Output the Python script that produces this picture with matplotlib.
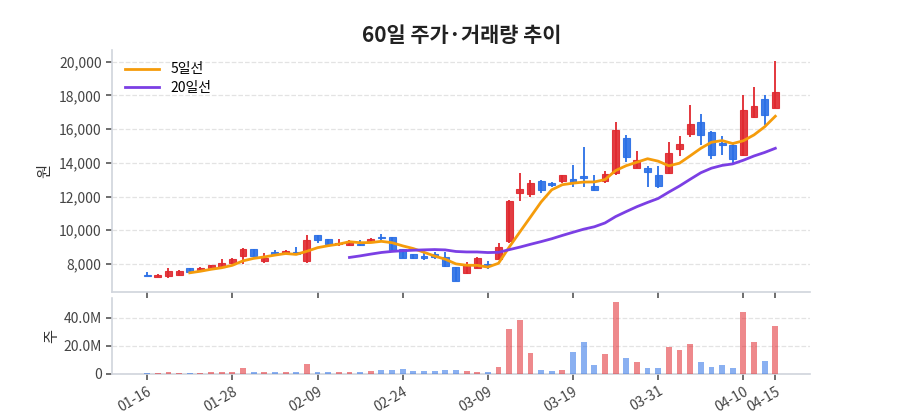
import matplotlib
matplotlib.use('Agg')
import matplotlib.pyplot as plt
import numpy as np
import pandas as pd
from matplotlib.ticker import FuncFormatter

plt.rcParams['font.family'] = ['Noto Sans CJK KR', 'DejaVu Sans']

dates = ['01-16', '01-19', '01-20', '01-21', '01-22', '01-23', '01-26', '01-27', '01-28',
         '01-29', '01-30', '02-02', '02-03', '02-04', '02-05', '02-06', '02-09',
         '02-10', '02-11', '02-12', '02-13', '02-19', '02-20', '02-23', '02-24',
         '02-25', '02-26', '02-27', '03-03', '03-04', '03-05', '03-06', '03-09',
         '03-10', '03-11', '03-12', '03-13', '03-16', '03-17', '03-18', '03-19',
         '03-20', '03-23', '03-24', '03-25', '03-26', '03-27', '03-30', '03-31',
         '04-01', '04-02', '04-03', '04-06', '04-07', '04-08', '04-09', '04-10',
         '04-13', '04-14', '04-15']

opens = [7330, 7230, 7290, 7370, 7750, 7660, 7750, 7840, 8040, 8480,
         8870, 8200, 8730, 8640, 8700, 8200, 9720, 9460, 9200, 9130,
         9190, 9290, 9600, 9580, 8890, 8590, 8470, 8580, 8400, 7800,
         7450, 7780, 8000, 8300, 9370, 12200, 12140, 12950, 12830, 12950,
         13030, 13190, 12630, 12930, 13420, 15450, 13690, 13690, 13290, 13390,
         14820, 15700, 16400, 15830, 15190, 15070, 14470, 16710, 17800, 17250]
highs = [7540, 7380, 7750, 7650, 7780, 7800, 7960, 8280, 8360, 8930,
         8900, 8640, 8850, 8800, 8990, 9720, 9740, 9480, 9490, 9450,
         9420, 9520, 9760, 9600, 8900, 8610, 8640, 8700, 8700, 7840,
         8100, 8400, 8200, 9230, 11800, 13420, 12990, 12980, 12890, 13300,
         13880, 14930, 13290, 13540, 16450, 15650, 14710, 13820, 13820, 15230,
         15570, 17440, 16890, 15880, 15570, 15170, 18040, 18500, 18000, 20020]
lows = [7280, 7220, 7190, 7300, 7520, 7640, 7720, 7780, 8000, 8000,
        8480, 8080, 8450, 8600, 8570, 8080, 9270, 9150, 9070, 9070,
        9090, 9270, 9370, 8770, 8330, 8300, 8240, 8300, 7840, 6960,
        7430, 7760, 7690, 8280, 9270, 11760, 12000, 12240, 12590, 12790,
        12590, 12590, 12310, 12830, 13290, 14080, 13690, 12590, 12500, 13330,
        14380, 15520, 15070, 14220, 14470, 13980, 14410, 16660, 16260, 17250]
closes = [7300, 7360, 7580, 7580, 7550, 7760, 7940, 8040, 8300, 8870,
          8500, 8370, 8580, 8770, 8610, 9430, 9430, 9170, 9240, 9320,
          9140, 9480, 9530, 8830, 8380, 8340, 8380, 8400, 7900, 6990,
          7940, 8350, 7890, 9030, 11760, 12440, 12790, 12360, 12660, 13270,
          12890, 13120, 12400, 13350, 15960, 14340, 14140, 13430, 12630, 14580,
          15120, 16320, 15660, 14440, 15070, 14240, 17150, 17400, 16850, 18200]
volumes = [0.3, 0.4, 1.0, 0.5, 0.4, 0.8, 1.0, 1.0, 1.5, 3.8,
           1.5, 1.0, 1.0, 1.0, 1.0, 7.1, 1.5, 1.0, 1.0, 1.0,
           1.0, 2.1, 2.4, 2.9, 3.1, 1.7, 1.7, 1.9, 2.4, 2.9,
           2.1, 1.0, 1.0, 5.2, 32.1, 38.6, 15.2, 2.4, 2.1, 2.4,
           15.7, 22.4, 6.0, 14.3, 51.0, 11.0, 8.6, 4.5, 4.3, 19.5,
           17.1, 21.0, 8.1, 5.0, 6.0, 4.3, 44.3, 22.4, 9.5, 33.8]  # millions

tick_dates = ['01-16', '01-28', '02-09', '02-24', '03-09', '03-19', '03-31', '04-10', '04-15']

RED = '#e0282e'
BLUE = '#2a6fe6'

df = pd.DataFrame({'open': opens, 'high': highs, 'low': lows,
                   'close': closes, 'vol': volumes}, index=dates)
x = np.arange(len(df))
up = df['close'] >= df['open']
colors = np.where(up, RED, BLUE)
ma5 = df['close'].rolling(5).mean()
ma20 = df['close'].rolling(20).mean()

fig = plt.figure(figsize=(9, 4.2), dpi=100)
ax = fig.add_axes([0.1245, 0.305, 0.776, 0.576])
axv = fig.add_axes([0.1245, 0.110, 0.776, 0.181], sharex=ax)

# candles
ax.vlines(x, df['low'], df['high'], colors=colors, linewidth=1.3, zorder=2)
body_lo = np.minimum(df['open'], df['close'])
body_h = np.maximum(np.abs(df['close'] - df['open']), 50)
ax.bar(x, body_h, bottom=body_lo, width=0.65, color=colors,
       edgecolor=colors, linewidth=0.8, alpha=0.9, zorder=3)

l5, = ax.plot(x, ma5, color='#f59c0b', linewidth=2, zorder=4)
l20, = ax.plot(x, ma20, color='#7b3fe4', linewidth=2, zorder=4)
ax.legend([l5, l20], ['5일선', '20일선'], loc='upper left', frameon=False,
          fontsize=10, handlelength=2.5, borderaxespad=0.5, labelspacing=0.35)

ax.set_ylim(6340, 20700)
ax.set_yticks(np.arange(8000, 20001, 2000))
ax.yaxis.set_major_formatter(FuncFormatter(lambda v, p: f'{int(v):,}'))
ax.set_ylabel('원', fontsize=11, color='#333333', labelpad=4)
ax.set_title('60일 주가·거래량 추이', fontsize=15, fontweight='bold',
             color='#222222', pad=6)

# volume
axv.bar(x, df['vol'], width=0.55, color=colors, alpha=0.55, zorder=3)
axv.set_ylim(0, 54.3)
axv.set_yticks([0, 20, 40])
axv.yaxis.set_major_formatter(FuncFormatter(lambda v, p: '0' if v == 0 else f'{v:.1f}M'))
axv.set_ylabel('주', fontsize=11, color='#333333', labelpad=2)

ax.set_xlim(-3.3, 62.3)
ticks = [dates.index(d) for d in tick_dates]
axv.set_xticks(ticks)
axv.set_xticklabels(tick_dates, rotation=30, ha='right', rotation_mode='anchor')
plt.setp(ax.get_xticklabels(), visible=False)

for a in (ax, axv):
    a.grid(axis='y', color='#e3e3e3', linestyle='--', linewidth=0.9, zorder=0)
    a.set_axisbelow(True)
    for s in ('top', 'right'):
        a.spines[s].set_visible(False)
    for s in ('left', 'bottom'):
        a.spines[s].set_color('#d0d4dc')
        a.spines[s].set_linewidth(1.2)
    a.tick_params(colors='#444444', labelsize=10, length=4, width=1.2)
    a.tick_params(axis='both', color='#555555')

fig.savefig('out.png', dpi=100)
